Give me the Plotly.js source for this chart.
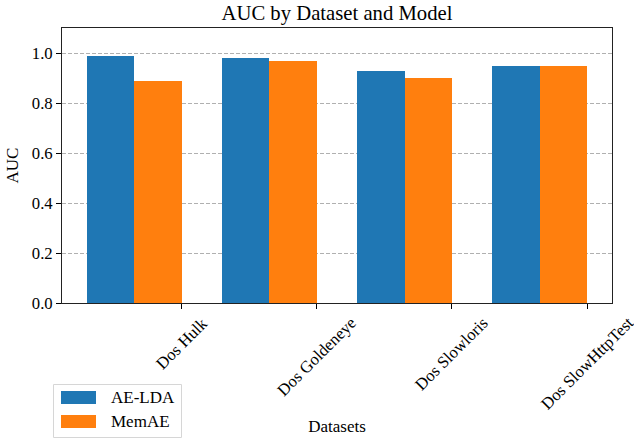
<!DOCTYPE html>
<html>
<head>
<meta charset="utf-8">
<script src="https://cdn.plot.ly/plotly-3.0.1.min.js"></script>
<style>html,body{margin:0;padding:0;background:#fff;}#chart{width:634px;height:443px;}</style>
</head>
<body>
<div id="chart"></div>
<script>
var categories = ["Dos Hulk", "Dos Goldeneye", "Dos Slowloris", "Dos SlowHttpTest"];
var aeLdaValues = [0.99, 0.98, 0.93, 0.95];
var memAeValues = [0.89, 0.97, 0.90, 0.95];
var seriesNames = ["AE-LDA", "MemAE"];
var seriesColors = ["#1f77b4", "#ff7f0e"];
var yTickValues = [0.0, 0.2, 0.4, 0.6, 0.8, 1.0];

var barWidth = 0.35;
var idx = categories.map(function(_, i){ return i; });
var FONT = "Liberation Serif";

// plot area in pixels (for placing the hand-drawn legend and labels)
var PL = 62, PR = 612, PT = 28, PB = 303;
function px2x(px){ return (px - PL) / (PR - PL); }
function px2y(py){ return (PB - py) / (PB - PT); }

var traces = [
  {type: "bar", name: seriesNames[0], x: idx.map(function(i){return i + barWidth/2;}), y: aeLdaValues,
   width: barWidth, marker: {color: seriesColors[0], line: {width: 0}}, showlegend: false},
  {type: "bar", name: seriesNames[1], x: idx.map(function(i){return i + 1.5*barWidth;}), y: memAeValues,
   width: barWidth, marker: {color: seriesColors[1], line: {width: 0}}, showlegend: false}
];

var tickPos = idx.map(function(i){ return i + 2*barWidth; });
var annotations = categories.map(function(c, i){
  return {text: c, x: tickPos[i], xref: "x", y: px2y(312), yref: "paper",
          xanchor: "center", yanchor: "top", textangle: -45, showarrow: false, borderpad: 0,
          font: {family: FONT, size: 16.7, color: "#000"}};
});

// legend (matplotlib style)
var shapes = [
  {type: "rect", xref: "paper", yref: "paper", x0: px2x(53.5), x1: px2x(181.5), y0: px2y(384.5), y1: px2y(437.5),
   line: {color: "#d6d6d6", width: 1}, fillcolor: "rgba(255,255,255,0.8)", layer: "above"}
];
seriesNames.forEach(function(n, k){
  var cy = 397.5 + 24 * k;
  shapes.push({type: "rect", xref: "paper", yref: "paper", x0: px2x(61), x1: px2x(96),
               y0: px2y(cy - 6.5), y1: px2y(cy + 6.5), line: {width: 0}, fillcolor: seriesColors[k], layer: "above"});
  annotations.push({text: n, xref: "paper", yref: "paper", x: px2x(109), y: px2y(cy), xanchor: "left", yanchor: "middle",
                    showarrow: false, font: {family: FONT, size: 17, color: "#000"}});
});

var layout = {
  width: 634, height: 443,
  margin: {l: PL, r: 634 - PR, t: PT, b: 443 - PB},
  paper_bgcolor: "#fff", plot_bgcolor: "#fff",
  font: {family: FONT, size: 16.7, color: "#000"},
  title: {text: "AUC by Dataset and Model", font: {family: FONT, size: 20.7, color: "#000"},
          x: 0.5, xref: "paper", xanchor: "center", y: 0.972, yref: "container", yanchor: "middle"},
  barmode: "overlay",
  bargap: 0,
  xaxis: {range: [-0.185, 3.885], tickvals: tickPos, ticktext: categories.map(function(){return "";}),
          showticklabels: false, ticks: "outside", ticklen: 5, tickcolor: "#000", tickwidth: 1,
          showgrid: false, zeroline: false, showline: true, linecolor: "#222", linewidth: 1, mirror: true,
          title: {text: "Datasets", font: {family: FONT, size: 17}, standoff: 112}, automargin: false},
  yaxis: {range: [0, 1.1], tickvals: yTickValues, tickformat: ".1f",
          ticks: "outside", ticklen: 5, tickcolor: "#000", tickwidth: 1,
          tickfont: {family: FONT, size: 16.7, color: "#000"},
          showgrid: true, gridcolor: "#b0b0b0", gridwidth: 1, griddash: "4px,2px",
          zeroline: false, showline: true, linecolor: "#222", linewidth: 1, mirror: true,
          title: {text: "AUC", font: {family: FONT, size: 17}, standoff: 8}, automargin: false},
  showlegend: false,
  shapes: shapes,
  annotations: annotations
};

Plotly.newPlot("chart", traces, layout, {displayModeBar: false, staticPlot: true});
</script>
</body>
</html>
